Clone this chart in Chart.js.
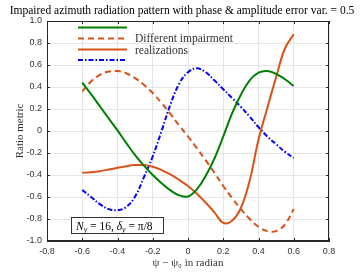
<!DOCTYPE html>
<html>
<head>
<meta charset="utf-8">
<script src="https://cdn.jsdelivr.net/npm/chart.js@4"></script>
<style>
  html, body { margin: 0; padding: 0; background: #fff; }
  #wrap { width: 364px; height: 273px; }
</style>
</head>
<body>
<div id="wrap"><canvas id="chart" width="364" height="273"></canvas></div>
<script>
// angle offset psi - psi0 (radian)
const xVals = [-0.6, -0.55, -0.5, -0.45, -0.4, -0.35, -0.3, -0.25, -0.2, -0.15, -0.1, -0.05, 0,
  0.05, 0.1, 0.15, 0.2, 0.25, 0.3, 0.35, 0.4, 0.45, 0.5, 0.55, 0.6];

const greenVals = [0.44, 0.335, 0.225, 0.115, 0.005, -0.11, -0.22, -0.315, -0.40, -0.475, -0.54, -0.585, -0.595,
  -0.53, -0.41, -0.25, -0.05, 0.16, 0.33, 0.46, 0.53, 0.545, 0.52, 0.47, 0.41];
const orangeDashVals = [0.36, 0.45, 0.51, 0.54, 0.545, 0.525, 0.48, 0.42, 0.345, 0.255, 0.155, 0.05, -0.05,
  -0.155, -0.265, -0.38, -0.50, -0.61, -0.71, -0.80, -0.87, -0.91, -0.91, -0.85, -0.71];
const orangeVals = [-0.38, -0.375, -0.365, -0.35, -0.335, -0.32, -0.31, -0.31, -0.325, -0.355, -0.395, -0.445, -0.50,
  -0.57, -0.65, -0.74, -0.835, -0.815, -0.70, -0.45, -0.08, 0.21, 0.49, 0.75, 0.88];
const blueVals = [-0.536, -0.60, -0.665, -0.71, -0.72, -0.69, -0.595, -0.42, -0.23, 0.0, 0.24, 0.43, 0.535,
  0.57, 0.535, 0.46, 0.38, 0.30, 0.22, 0.13, 0.035, -0.05, -0.12, -0.19, -0.245];

const xTicks = [-0.8, -0.6, -0.4, -0.2, 0, 0.2, 0.4, 0.6, 0.8];
const yTicks = [-1, -0.8, -0.6, -0.4, -0.2, 0, 0.2, 0.4, 0.6, 0.8, 1];

const legendLabels = ['', 'Different impairment', 'realizations', ''];

const GREEN = '#008000';
const ORANGE = '#d95319';
const BLUE = '#0000ff';
const AXIS = '#262626';
const SERIF = '"Liberation Serif", "DejaVu Serif", serif';

function pts(vals) {
  return xVals.map((x, i) => ({ x: x, y: vals[i] }));
}

function mkSet(label, vals, color, dash) {
  return {
    label: label,
    data: pts(vals),
    borderColor: color,
    backgroundColor: color,
    borderWidth: 2,
    borderDash: dash,
    pointRadius: 0,
    fill: false,
    tension: 0.4
  };
}

// title, axis titles, legend, text box, inward ticks and box outline
const decorations = {
  id: 'decorations',
  afterDraw(chart) {
    const ctx = chart.ctx;
    const a = chart.chartArea;
    const xs = chart.scales.x, ys = chart.scales.y;
    ctx.save();

    // box and inward ticks
    ctx.strokeStyle = AXIS;
    ctx.lineWidth = 1;
    ctx.strokeRect(a.left + 0.5, a.top + 0.5, a.right - a.left - 1, a.bottom - a.top - 1);
    ctx.beginPath();
    xTicks.forEach(t => {
      const px = Math.round(xs.getPixelForValue(t)) + 0.5;
      ctx.moveTo(px, a.bottom); ctx.lineTo(px, a.bottom - 3);
      ctx.moveTo(px, a.top); ctx.lineTo(px, a.top + 3);
    });
    yTicks.forEach(t => {
      const py = Math.round(ys.getPixelForValue(t)) + 0.5;
      ctx.moveTo(a.left, py); ctx.lineTo(a.left + 3, py);
      ctx.moveTo(a.right, py); ctx.lineTo(a.right - 3, py);
    });
    ctx.stroke();

    // title
    ctx.fillStyle = '#000';
    ctx.textAlign = 'center';
    ctx.textBaseline = 'middle';
    ctx.font = '11.5px ' + SERIF;
    ctx.fillText('Impaired azimuth radiation pattern with phase & amplitude error var. = 0.5', 182, 11);

    // axis titles
    ctx.fillStyle = '#333';
    ctx.font = '11px ' + SERIF;
    ctx.fillText('\u03c8 \u2212 \u03c8\u2080 in radian', 188, 263);
    ctx.save();
    ctx.translate(20, 131);
    ctx.rotate(-Math.PI / 2);
    ctx.fillText('Ratio metric', 0, 0);
    ctx.restore();

    // legend
    const rows = [27.5, 38.5, 49.5, 60];
    chart.data.datasets.forEach((ds, i) => {
      ctx.strokeStyle = ds.borderColor;
      ctx.lineWidth = 2;
      ctx.setLineDash(ds.borderDash || []);
      ctx.beginPath();
      ctx.moveTo(78, rows[i]);
      ctx.lineTo(127, rows[i]);
      ctx.stroke();
    });
    ctx.setLineDash([]);
    ctx.fillStyle = '#333';
    ctx.textAlign = 'left';
    ctx.font = '11.5px ' + SERIF;
    ctx.fillText(legendLabels[1], 135, 38.5);
    ctx.fillText(legendLabels[2], 135, 50.5);

    // parameter box
    ctx.fillStyle = '#fff';
    ctx.fillRect(71, 217, 93, 17);
    ctx.strokeStyle = '#333';
    ctx.lineWidth = 1;
    ctx.strokeRect(71.5, 217.5, 92, 16);
    ctx.fillStyle = '#000';
    ctx.textBaseline = 'alphabetic';
    let x = 76;
    const base = 230;
    const parts = [
      ['italic 11.5px ', 'N', 0], ['italic 8px ', 'y', 2], ['11.5px ', ' = 16, ', 0],
      ['italic 11.5px ', '\u03b4', 0], ['italic 8px ', 'y', 2], ['11.5px ', ' = \u03c0/8', 0]
    ];
    parts.forEach(p => {
      ctx.font = p[0] + SERIF;
      ctx.fillText(p[1], x, base + p[2]);
      x += ctx.measureText(p[1]).width;
    });

    ctx.restore();
  }
};

new Chart(document.getElementById('chart'), {
  type: 'line',
  data: {
    datasets: [
      mkSet(legendLabels[0], greenVals, GREEN, []),
      mkSet(legendLabels[1], orangeDashVals, ORANGE, [6, 4]),
      mkSet(legendLabels[2], orangeVals, ORANGE, []),
      mkSet(legendLabels[3], blueVals, BLUE, [5, 2, 1.5, 2])
    ]
  },
  plugins: [decorations],
  options: {
    responsive: false,
    animation: false,
    layout: { padding: { top: 21, right: 35, left: 0, bottom: 0 } },
    plugins: {
      legend: { display: false },
      title: { display: false },
      tooltip: { enabled: false }
    },
    scales: {
      x: {
        type: 'linear',
        min: -0.8,
        max: 0.8,
        afterBuildTicks: s => { s.ticks = xTicks.map(v => ({ value: v })); },
        afterFit: s => { s.height = 32; },
        grid: { color: '#e5e5e5', drawTicks: false },
        border: { color: AXIS },
        ticks: { color: '#333', font: { family: 'Liberation Sans', size: 9 }, padding: 5, maxRotation: 0 }
      },
      y: {
        min: -1,
        max: 1,
        afterBuildTicks: s => { s.ticks = yTicks.map(v => ({ value: v })); },
        afterFit: s => { s.width = 47; },
        grid: { color: '#e5e5e5', drawTicks: false },
        border: { color: AXIS },
        ticks: { color: '#333', font: { family: 'Liberation Sans', size: 9 }, padding: 5 }
      }
    }
  }
});
</script>
</body>
</html>
